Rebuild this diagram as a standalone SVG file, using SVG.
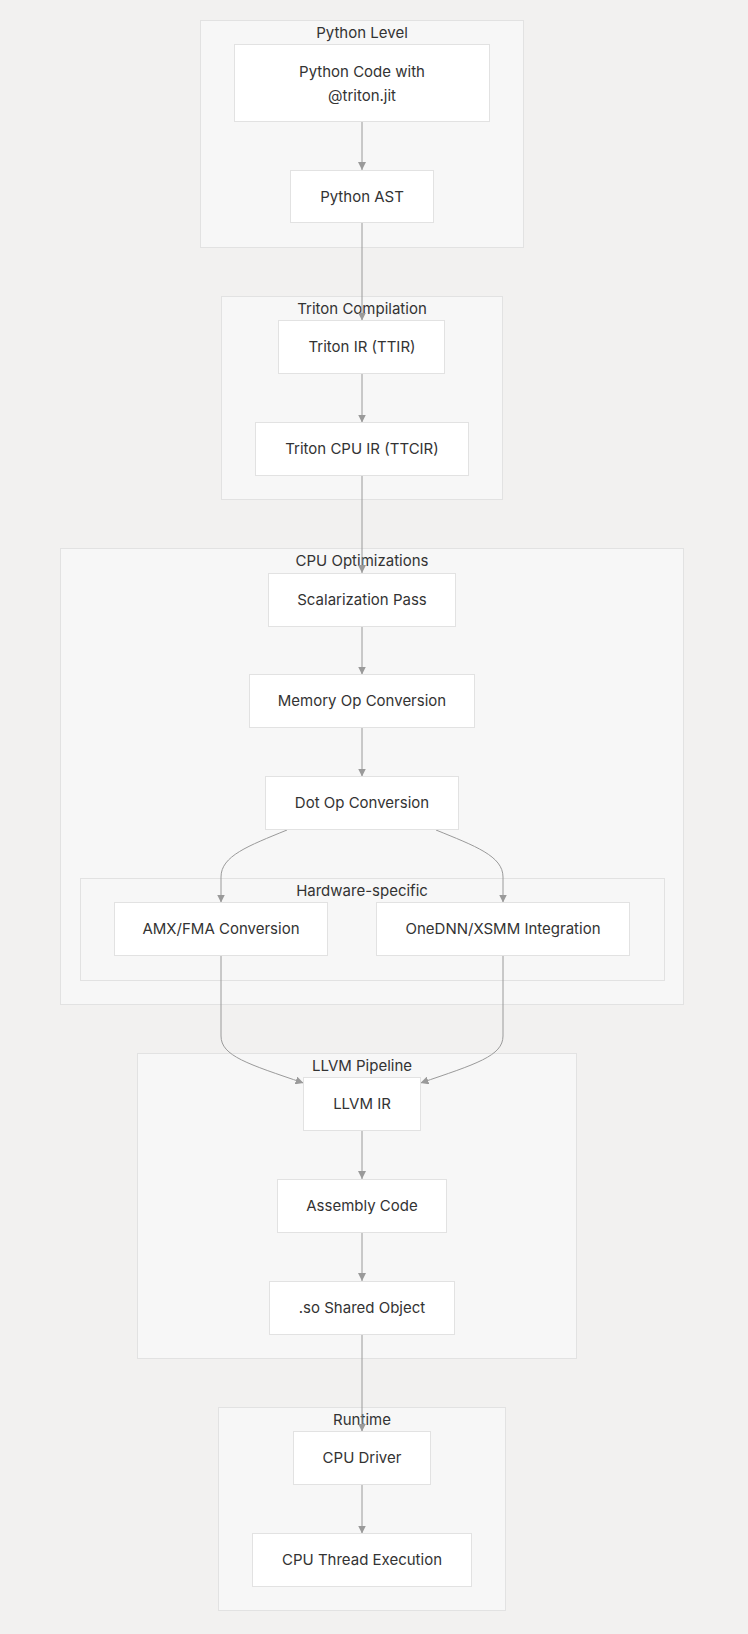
<svg xmlns="http://www.w3.org/2000/svg" width="748" height="1634" viewBox="0 0 748 1634">
<style>
.cl{fill:#f7f7f7;stroke:#e2e2e2;stroke-width:1}
.nd{fill:#ffffff;stroke:#e2e2e2;stroke-width:1}
.t{font-family:Inter,"Noto Sans","Liberation Sans",sans-serif;font-size:15px;fill:#333333;text-anchor:middle}
.e{fill:none;stroke:#9a9a9a;stroke-width:1}
</style>
<defs>
<marker id="ah" viewBox="0 0 10 10" refX="10" refY="5" markerWidth="8" markerHeight="8" markerUnits="userSpaceOnUse" orient="auto">
<path d="M0,0 L10,5 L0,10 z" fill="#9a9a9a"/>
</marker>
</defs>
<rect width="748" height="1634" fill="#f2f1f0"/>
<g id="clusters">
<g id="c-python"><rect class="cl" x="200.5" y="20.5" width="323" height="227"/><text class="t" x="362" y="38">Python Level</text></g>
<g id="c-triton"><rect class="cl" x="221.5" y="296.5" width="281" height="203"/><text class="t" x="362" y="314">Triton Compilation</text></g>
<g id="c-cpuopt"><rect class="cl" x="60.5" y="548.5" width="623" height="456"/><text class="t" x="362" y="566">CPU Optimizations</text></g>
<g id="c-hw"><rect class="cl" x="80.5" y="878.5" width="584" height="102"/><text class="t" x="362" y="896">Hardware-specific</text></g>
<g id="c-llvm"><rect class="cl" x="137.5" y="1053.5" width="439" height="305"/><text class="t" x="362" y="1071">LLVM Pipeline</text></g>
<g id="c-runtime"><rect class="cl" x="218.5" y="1407.5" width="287" height="203"/><text class="t" x="362" y="1425">Runtime</text></g>
</g>
<g id="edges">
<path class="e" d="M362,121.5 V170" marker-end="url(#ah)"/>
<path class="e" d="M362,222.5 V320.5" marker-end="url(#ah)"/>
<path class="e" d="M362,373.5 V422.5" marker-end="url(#ah)"/>
<path class="e" d="M362,475.5 V573" marker-end="url(#ah)"/>
<path class="e" d="M362,626.5 V674.5" marker-end="url(#ah)"/>
<path class="e" d="M362,727.5 V776.5" marker-end="url(#ah)"/>
<path class="e" d="M287,830 C248,846 221,856 221,877 V902.5" marker-end="url(#ah)"/>
<path class="e" d="M436,830 C475,846 503,856 503,877 V902.5" marker-end="url(#ah)"/>
<path class="e" d="M221,955.5 V1036 C221,1056 248,1064 303.5,1083" marker-end="url(#ah)"/>
<path class="e" d="M503,955.5 V1036 C503,1056 476,1064 420.5,1083" marker-end="url(#ah)"/>
<path class="e" d="M362,1130.5 V1179" marker-end="url(#ah)"/>
<path class="e" d="M362,1232.5 V1281" marker-end="url(#ah)"/>
<path class="e" d="M362,1334.5 V1431.5" marker-end="url(#ah)"/>
<path class="e" d="M362,1484.5 V1533.5" marker-end="url(#ah)"/>
</g>
<g id="n-pycode"><rect class="nd" x="234.5" y="44.5" width="255" height="77"/><text class="t" x="362" y="77">Python Code with</text><text class="t" x="362" y="101">@triton.jit</text></g>
<g id="n-ast"><rect class="nd" x="290.5" y="170.5" width="143" height="52"/><text class="t" x="362" y="202">Python AST</text></g>
<g id="n-ttir"><rect class="nd" x="278.5" y="320.5" width="166" height="53"/><text class="t" x="362" y="352">Triton IR (TTIR)</text></g>
<g id="n-ttcir"><rect class="nd" x="255.5" y="422.5" width="213" height="53"/><text class="t" x="362" y="454">Triton CPU IR (TTCIR)</text></g>
<g id="n-scalar"><rect class="nd" x="268.5" y="573.5" width="187" height="53"/><text class="t" x="362" y="605">Scalarization Pass</text></g>
<g id="n-mem"><rect class="nd" x="249.5" y="674.5" width="225" height="53"/><text class="t" x="362" y="706">Memory Op Conversion</text></g>
<g id="n-dot"><rect class="nd" x="265.5" y="776.5" width="193" height="53"/><text class="t" x="362" y="808">Dot Op Conversion</text></g>
<g id="n-amx"><rect class="nd" x="114.5" y="902.5" width="213" height="53"/><text class="t" x="221" y="934">AMX/FMA Conversion</text></g>
<g id="n-onednn"><rect class="nd" x="376.5" y="902.5" width="253" height="53"/><text class="t" x="503" y="934">OneDNN/XSMM Integration</text></g>
<g id="n-llvmir"><rect class="nd" x="303.5" y="1077.5" width="117" height="53"/><text class="t" x="362" y="1109">LLVM IR</text></g>
<g id="n-asm"><rect class="nd" x="277.5" y="1179.5" width="169" height="53"/><text class="t" x="362" y="1211">Assembly Code</text></g>
<g id="n-so"><rect class="nd" x="269.5" y="1281.5" width="185" height="53"/><text class="t" x="362" y="1313">.so Shared Object</text></g>
<g id="n-driver"><rect class="nd" x="293.5" y="1431.5" width="137" height="53"/><text class="t" x="362" y="1463">CPU Driver</text></g>
<g id="n-thread"><rect class="nd" x="252.5" y="1533.5" width="219" height="53"/><text class="t" x="362" y="1565">CPU Thread Execution</text></g>
</svg>
